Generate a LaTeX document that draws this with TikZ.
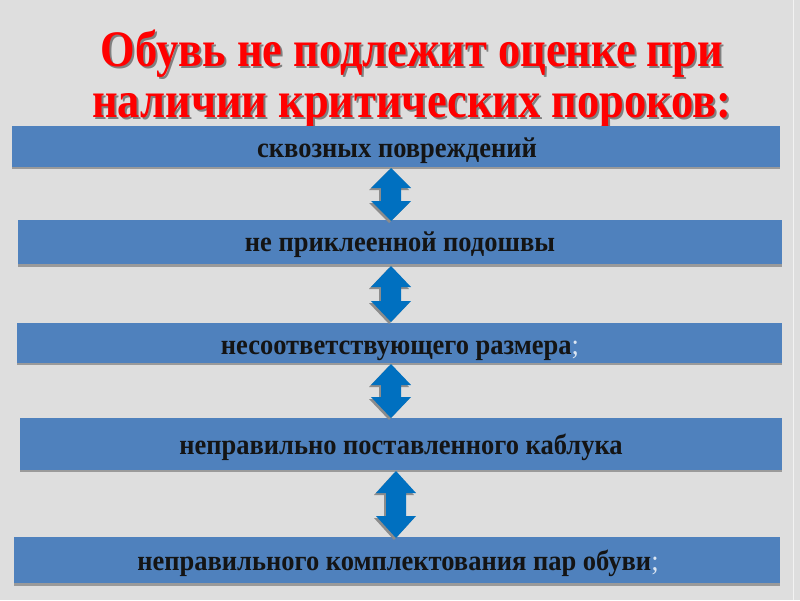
\documentclass[tikz,border=0pt]{standalone}
\usepackage{fontspec}
\setmainfont{Liberation Serif}
\definecolor{bg}{HTML}{DEDEDE}
\definecolor{boxblue}{HTML}{4F81BD}
\definecolor{boxshadow}{HTML}{9A9A9A}
\definecolor{arrowblue}{HTML}{0070C0}
\definecolor{arrowshadow}{HTML}{8C8C8C}
\definecolor{titlered}{HTML}{FF0000}
\definecolor{textdark}{HTML}{141414}
\definecolor{semic}{HTML}{DCE6F2}
\newcommand\udarrow[5]{%
  % #1 center x, #2 top, #3 bottom, #4 head length, #5 color
  \fill[#5] (#1,#2) -- ++(20,#4) -- ++(-10,0) |- (#1+10,#3-#4) -- ++(10,0) -- (#1,#3)
     -- ++(-20,-#4) -- ++(10,0) -- (#1-10,#2+#4) -- ++(-10,0) -- cycle;}
\newcommand\shadowtext[1]{\makebox[0pt][l]{\hspace{2pt}\raisebox{-2pt}{\textcolor{black!50}{#1}}}\textcolor{titlered}{#1}}
\begin{document}
\begin{tikzpicture}[x=1pt,y=-1pt,
  box/.style={fill=boxblue, inner sep=0pt, anchor=north west},
  lbl/.style={font=\bfseries\fontsize{26.5}{30}\selectfont, text=textdark, anchor=base, inner sep=0pt},
  ttl/.style={font=\bfseries\fontsize{44.5}{54}\selectfont, anchor=base, inner sep=0pt}]
\fill[bg] (0,0) rectangle (800,600);
\useasboundingbox (0,0) rectangle (800,600);
\draw[white!60!bg, line width=1pt] (793,0) -- (793,600);
% title
\node[ttl] (title1) at (412,66) {\scalebox{1}[1.15]{\shadowtext{Обувь не подлежит оценке при}}};
\node[ttl] (title2) at (412,117) {\scalebox{1}[1.15]{\shadowtext{наличии критических пороков:}}};
% boxes
\fill[boxshadow] (12,166) rectangle (780,169);
\node[box, minimum width=768pt, minimum height=41pt] (b1) at (12,126) {};
\fill[boxshadow] (18,263) rectangle (782,267);
\node[box, minimum width=764pt, minimum height=44pt] (b2) at (18,220) {};
\fill[boxshadow] (17,362) rectangle (782,365);
\node[box, minimum width=765pt, minimum height=40pt] (b3) at (17,323) {};
\fill[boxshadow] (20,469) rectangle (782,472);
\node[box, minimum width=762pt, minimum height=52pt] (b4) at (20,418) {};
\fill[boxshadow] (14,582) rectangle (780,586);
\node[box, minimum width=766pt, minimum height=46pt] (b5) at (14,537) {};
% labels
\node[lbl] (t1) at (397,157) {\scalebox{1}[1.08]{сквозных повреждений}};
\node[lbl] (t2) at (400,251) {\scalebox{1}[1.08]{не приклеенной подошвы}};
\node[lbl] (t3) at (400,354) {\scalebox{1}[1.08]{несоответствующего размера\textcolor{semic}{\mdseries;}}};
\node[lbl] (t4) at (401,454) {\scalebox{1}[1.08]{неправильно поставленного каблука}};
\node[lbl] (t5) at (398,570) {\scalebox{1}[1.08]{неправильного комплектования пар обуви\textcolor{semic}{\mdseries;}}};
% arrows
\udarrow{389}{170}{223}{20}{arrowshadow}
\udarrow{391}{168}{221}{20}{arrowblue}
\udarrow{389}{268}{324}{21}{arrowshadow}
\udarrow{391}{266}{322}{21}{arrowblue}
\udarrow{389}{366}{420}{21}{arrowshadow}
\udarrow{391}{364}{418}{21}{arrowblue}
\udarrow{394}{473}{540}{22}{arrowshadow}
\udarrow{396}{471}{538}{22}{arrowblue}
\end{tikzpicture}
\end{document}
